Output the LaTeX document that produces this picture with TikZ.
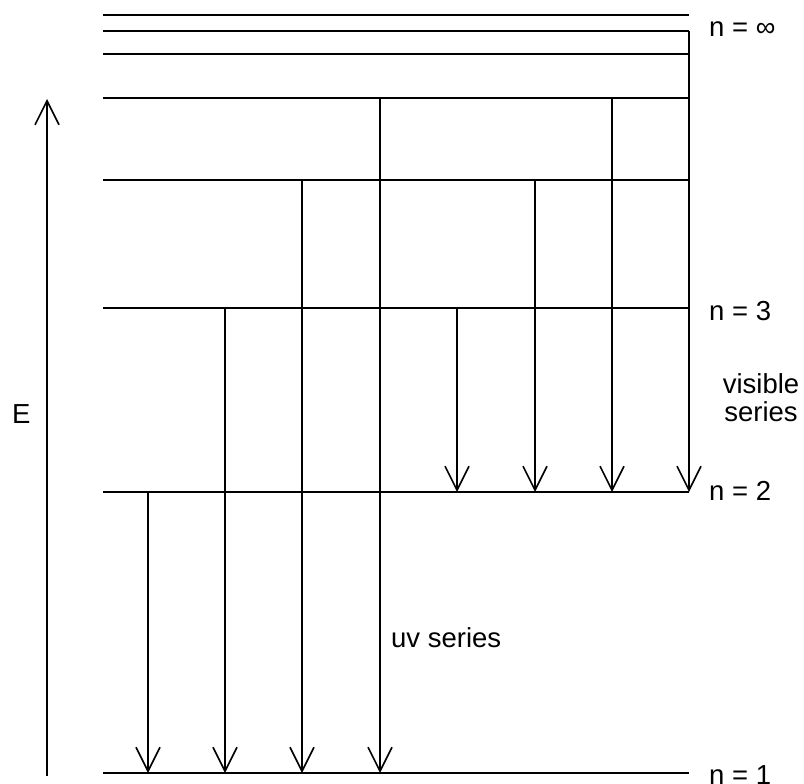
\documentclass[tikz,border=0pt]{standalone}
\usepackage{fontspec}
\setmainfont{Liberation Sans}
\usetikzlibrary{arrows.meta}
\begin{document}
\begin{tikzpicture}[x=1pt,y=-1pt,
  level/.style={line width=2.2pt},
  trans/.style={line width=1.6pt,-{Straight Barb[length=24pt,width=24pt,line width=1.6pt]}},
  lbl/.style={anchor=base west,inner sep=0pt,font=\fontsize{27.5}{28}\selectfont}]
\useasboundingbox (0,0) rectangle (804,784);
% energy levels
\foreach \n/\y in {a/15,inf/31,b/54,five/98,four/180,three/308,two/492,one/773}{
  \coordinate (\n W) at (103,\y);
  \coordinate (\n E) at (689,\y);
  \draw[level] (\n W) -- (\n E);
}
% uv series (to n = 1)
\draw[trans] (148,0 |- twoW) -- (148,0 |- oneW);
\draw[trans] (225,0 |- threeW) -- (225,0 |- oneW);
\draw[trans] (302,0 |- fourW) -- (302,0 |- oneW);
\draw[trans] (380,0 |- fiveW) -- (380,0 |- oneW);
% visible series (to n = 2)
\draw[trans] (457,0 |- threeW) -- (457,0 |- twoW);
\draw[trans] (535,0 |- fourW) -- (535,0 |- twoW);
\draw[trans] (612,0 |- fiveW) -- (612,0 |- twoW);
\draw[trans] (infE) -- (twoE);
% energy axis
\coordinate (Ebot) at (47,776);
\coordinate (Etop) at (47,99);
\draw[trans] (Ebot) -- (Etop);
% labels
\node[lbl] (linf) at (709,37) {n = ∞};
\node[lbl] (l3) at (709,320) {n = 3};
\node[lbl] (l2) at (709,500) {n = 2};
\node[lbl] (l1) at (709,784) {n = 1};
\node[lbl,anchor=north,align=center] (vis) at (761,373) {visible\\series};
\node[lbl] (E) at (12,423) {E};
\node[lbl] (uv) at (391,647) {uv series};
\end{tikzpicture}
\end{document}
